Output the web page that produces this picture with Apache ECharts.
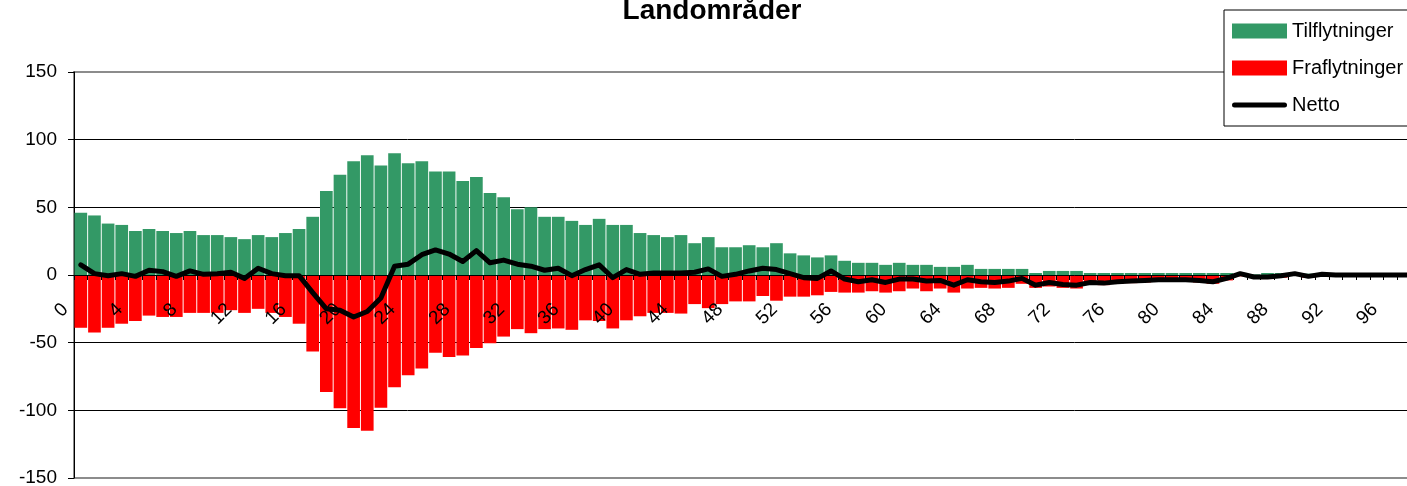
<!DOCTYPE html>
<html>
<head>
<meta charset="utf-8">
<title>Landområder</title>
<script src="https://cdn.jsdelivr.net/npm/echarts@6/dist/echarts.min.js"></script>
<style>
  html, body { margin: 0; padding: 0; background: #fff; }
  #chart { width: 1407px; height: 486px; }
</style>
</head>
<body>
<div id="chart"></div>
<script>
// Alder (år)
const ages = [
  '0','1','2','3','4','5','6','7','8','9','10','11','12','13','14','15','16','17','18','19',
  '20','21','22','23','24','25','26','27','28','29','30','31','32','33','34','35','36','37','38','39',
  '40','41','42','43','44','45','46','47','48','49','50','51','52','53','54','55','56','57','58','59',
  '60','61','62','63','64','65','66','67','68','69','70','71','72','73','74','75','76','77','78','79',
  '80','81','82','83','84','85','86','87','88','89','90','91','92','93','94','95','96','97','98','99'
];

// Tilflytninger pr. alder
const tilflytninger = [
  46, 44, 38, 37, 32.5, 34, 32.5, 31, 32.5, 29.5,
  29.5, 28, 26.5, 29.5, 28, 31, 34, 43, 62, 74,
  84, 88.5, 81, 90, 82.5, 84, 76.5, 76.5, 69.5, 72.5,
  60.5, 57.5, 48.5, 50, 43, 43, 40, 37, 41.5, 37,
  37, 31, 29.5, 28, 29.5, 23.5, 28, 20.5, 20.5, 22,
  20.5, 23.5, 16, 14.5, 13, 14.5, 10.5, 9, 9, 7.5,
  9, 7.5, 7.5, 6, 6, 7.5, 4.5, 4.5, 4.5, 4.5,
  1.5, 3, 3, 3, 1.5, 1.5, 1.5, 1.5, 1.5, 1.5,
  1.5, 1.5, 1.5, 1.5, 1.5, 1.5, 0.5, 1.5, 1.5, 1.5,
  1, 1, 0.5, 0, 0, 0, 0, 0, 0, 0
];

// Fraflytninger pr. alder (negative)
const fraflytninger = [
  -39, -42.5, -39, -36, -34, -30, -31, -31, -28, -28,
  -28, -26, -28, -25, -28, -31, -36, -56.5, -86.5, -98.5,
  -113, -115, -98, -83, -74, -69, -57.5, -60.5, -59.5, -54,
  -50.5, -45.5, -40, -43, -40, -39.5, -40.5, -33.5, -34, -39.5,
  -33.5, -30.5, -28, -28, -28.5, -21.5, -24.5, -21.5, -19.5, -19.5,
  -15.5, -19, -16, -16, -15, -12.5, -13, -13, -12, -13,
  -12, -10, -12, -10, -13, -10, -9.5, -10, -9.5, -6.5,
  -9.5, -8.5, -9.5, -10, -7, -7.5, -6.5, -6, -5.5, -5,
  -5, -5, -5.5, -6.5, -4, -1, -2, -3, -2, -0.5,
  -2, -0.5, -0.5, 0, 0, 0, 0, 0, 0, 0
];

// Netto pr. alder
const netto = [
  7.5, 1, -0.5, 1, -1, 3.5, 2.5, -1, 3, 0.5,
  1, 2, -2.5, 5, 1, -0.5, -0.5, -13, -25, -26,
  -31, -27, -17, 6.5, 8, 15, 18.5, 15.5, 10, 18,
  9, 11, 8, 6.5, 3.5, 5, -0.5, 4, 7.5, -2,
  4, 0.5, 1.5, 1.5, 1.5, 2, 4.5, -1, 0.5, 3,
  5, 4, 1, -2, -2.5, 3, -3, -5, -3.5, -5.5,
  -3, -3, -4.5, -4, -7.5, -3.5, -5, -5.5, -4.5, -2.5,
  -7.5, -5.5, -7, -7.5, -5.5, -6, -5, -4.5, -4, -3.5,
  -3.5, -3.5, -4, -5, -2.5, 1, -1.5, -1.5, -0.5, 1,
  -1, 0.5, 0, 0, 0, 0, 0, 0, 0, 0
];

const yTicks = { min: -150, max: 150, interval: 50 };

const FONT = '"Liberation Sans", Arial, Helvetica, sans-serif';

// Plot box
const GRID = { left: 74, top: 72, width: 1364, height: 406 };
// Distance from the plot bottom up to the zero value line
const ZERO_OFFSET = GRID.height * (0 - yTicks.min) / (yTicks.max - yTicks.min);

// Thick rounded stroke used as the legend key for the net line
// (the leading moves pin the icon box to the full key size)
const NET_ICON = 'path://M0,0M55,15M2.5,5L52.5,5A2.5,2.5,0,0,1,52.5,10L2.5,10A2.5,2.5,0,0,1,2.5,5Z';

const chart = echarts.init(document.getElementById('chart'), null, { renderer: 'canvas' });

chart.setOption({
  animation: false,
  backgroundColor: '#ffffff',
  textStyle: { fontFamily: FONT, color: '#000' },
  title: {
    text: 'Landområder',
    left: 707,
    textAlign: 'center',
    top: -8,
    textStyle: { fontFamily: FONT, fontSize: 28, fontWeight: 'bold', color: '#000' }
  },
  legend: {
    orient: 'vertical',
    left: 1224,
    top: 10,
    padding: [10, 120, 10, 8],
    itemGap: 15,
    itemWidth: 55,
    itemHeight: 15,
    borderColor: '#000',
    borderWidth: 1,
    backgroundColor: '#fff',
    textStyle: { fontFamily: FONT, fontSize: 20, color: '#000', lineHeight: 22 },
    data: [
      { name: 'Tilflytninger', icon: 'rect' },
      { name: 'Fraflytninger', icon: 'rect' },
      { name: 'Netto', icon: NET_ICON, itemStyle: { color: '#000' } }
    ]
  },
  grid: {
    left: GRID.left,
    top: GRID.top,
    width: GRID.width,
    height: GRID.height,
    show: true,
    borderColor: '#8c8c8c',
    borderWidth: 2,
    backgroundColor: 'transparent',
    containLabel: false,
    outerBoundsMode: 'none'
  },
  xAxis: {
    type: 'category',
    data: ages,
    boundaryGap: true,
    position: 'bottom',
    // category axis sits on the zero value line, drawn above the bars
    offset: -ZERO_OFFSET,
    z: 10,
    axisLine: { onZero: false, lineStyle: { color: '#000', width: 1 } },
    axisTick: { show: true, interval: 0, length: 5, inside: false, lineStyle: { color: '#000' } },
    axisLabel: {
      show: true,
      interval: 3,
      rotate: 45,
      margin: 16,
      fontFamily: FONT,
      fontSize: 19,
      color: '#000',
      // trailing spacer nudges each rotated label back along its baseline
      formatter: function (v) { return '{n|' + v + '}{s|}'; },
      rich: {
        n: { fontFamily: FONT, fontSize: 19, color: '#000' },
        s: { width: 22, fontSize: 19 }
      }
    },
    splitLine: { show: false }
  },
  yAxis: {
    type: 'value',
    min: yTicks.min,
    max: yTicks.max,
    interval: yTicks.interval,
    axisLine: { show: true, onZero: false, lineStyle: { color: '#000', width: 1 } },
    axisTick: { show: true, length: 6, inside: false, lineStyle: { color: '#000' } },
    axisLabel: { margin: 17, fontFamily: FONT, fontSize: 19, color: '#000' },
    splitLine: { show: true, showMinLine: false, showMaxLine: false, lineStyle: { color: '#000', width: 1 } }
  },
  series: [
    {
      name: 'Tilflytninger',
      type: 'bar',
      data: tilflytninger,
      barGap: '-100%',
      barCategoryGap: '7%',
      itemStyle: { color: '#339966' }
    },
    {
      name: 'Fraflytninger',
      type: 'bar',
      data: fraflytninger,
      barGap: '-100%',
      barCategoryGap: '7%',
      itemStyle: { color: '#ff0000' }
    },
    {
      name: 'Netto',
      type: 'line',
      data: netto,
      symbol: 'none',
      showSymbol: false,
      z: 12,
      itemStyle: { color: '#000' },
      lineStyle: { color: '#000', width: 5, join: 'round', cap: 'round' }
    }
  ]
});
</script>
</body>
</html>
